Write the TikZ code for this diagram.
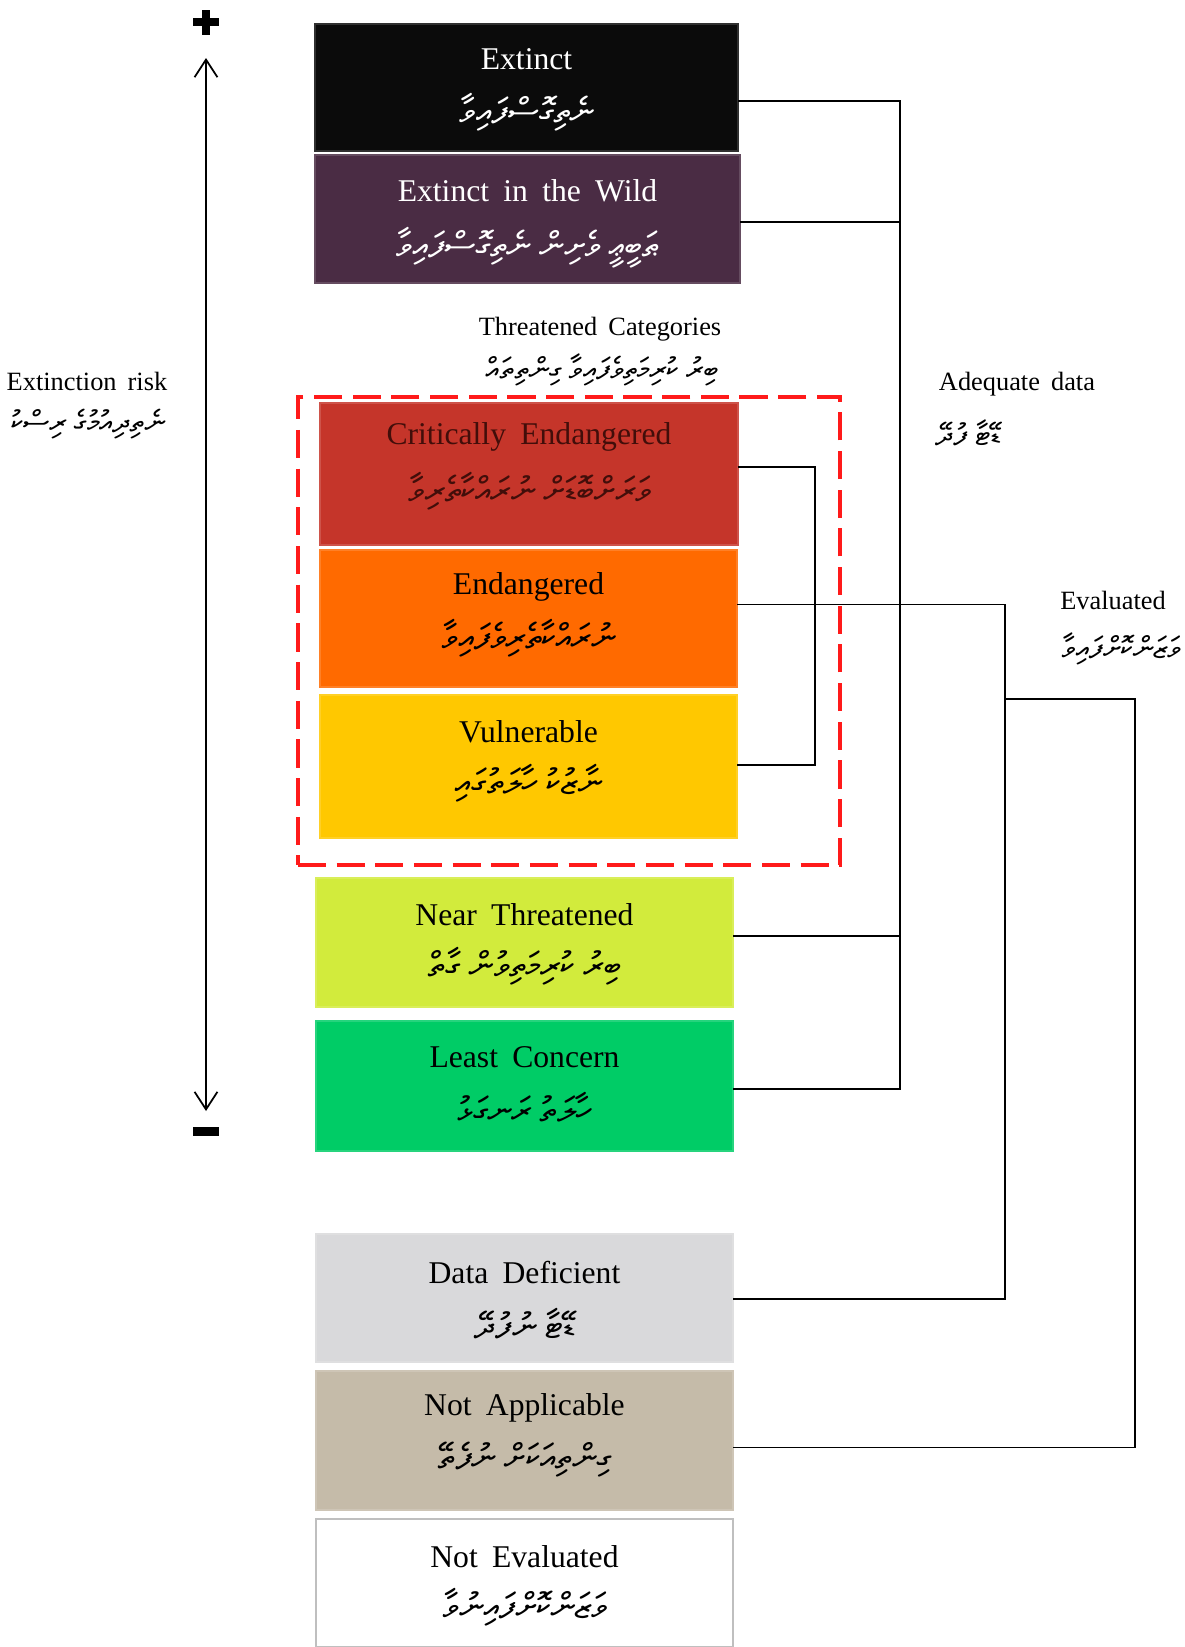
\documentclass[tikz,border=0pt]{standalone}
\usepackage{fontspec}
\setmainfont{Liberation Serif}
\IfFontExistsTF{FreeSerif}
  {\newfontfamily\thaana[Script=Thaana]{FreeSerif}}
  {\newfontfamily\thaana{DejaVu Sans}}
\TeXXeTstate=1
\newcommand{\dhiv}[1]{\beginR #1\endR}
\usepackage{tikz}
\usetikzlibrary{arrows.meta, positioning, calc}
\definecolor{ExBlack}{HTML}{0B0B0B}
\definecolor{EwPurple}{HTML}{4A2C44}
\definecolor{CrRed}{HTML}{C5352A}
\definecolor{CrText}{HTML}{420E0A}
\definecolor{EnOrange}{HTML}{FF6A00}
\definecolor{VuGold}{HTML}{FFC800}
\definecolor{NtLime}{HTML}{D2EB3C}
\definecolor{LcGreen}{HTML}{00CC66}
\definecolor{DdGrey}{HTML}{D9D9DB}
\definecolor{NaTaupe}{HTML}{C5BBA9}
\definecolor{ThreatRed}{HTML}{FF1A1A}
\tikzset{
  % Box styles
  catbox/.style={rectangle, inner sep=0pt, outer sep=0pt, minimum width=4.17cm, fill=#1, draw=#1!85!white, line width=0.6pt},
  threatbox/.style={rectangle, inner sep=0pt, draw=ThreatRed, dash pattern=on 8pt off 3pt, line width=1.2pt},
  % Text styles
  cattitle/.style={inner sep=1pt, font={\fontsize{9}{11}\selectfont\spaceskip=0.45em plus 0.1em}, text=black},
  catdv/.style={inner sep=1pt, font={\thaana\fontsize{10}{12}\selectfont}, text=black},
  sidelabel/.style={inner sep=1pt, font={\fontsize{7.5}{9}\selectfont\spaceskip=0.42em plus 0.1em}},
  sidedv/.style={inner sep=1pt, font={\thaana\fontsize{8.5}{10}\selectfont}},
  % Line styles
  link/.style={draw=black, line width=0.5pt},
  riskarrow/.style={{Straight Barb[length=5pt,width=6.5pt]}-{Straight Barb[length=5pt,width=6.5pt]}, line width=0.5pt},
  signbar/.style={rectangle, fill=black, inner sep=0pt}
}

\begin{document}
\begin{tikzpicture}[x=0.01cm, y=-0.01cm]
  \useasboundingbox (0,0) rectangle (1185,1647);

  % Category boxes
  \node[catbox=ExBlack, minimum width=4.23cm, minimum height=1.27cm] (ex) at (526.5,87.5) {};
  \node[catbox=EwPurple, minimum width=4.25cm, minimum height=1.28cm] (ew) at (527.5,219) {};
  \node[catbox=CrRed, minimum height=1.42cm] (cr) at (529,474) {};
  \node[catbox=EnOrange, minimum height=1.37cm] (en) at (528.5,618.5) {};
  \node[catbox=VuGold, minimum height=1.43cm] (vu) at (528.5,766.5) {};
  \node[catbox=NtLime, minimum height=1.29cm] (nt) at (524.5,942.5) {};
  \node[catbox=LcGreen, minimum height=1.30cm] (lc) at (524.5,1086) {};
  \node[catbox=DdGrey, minimum height=1.28cm] (dd) at (524.5,1298) {};
  \node[catbox=NaTaupe, minimum height=1.39cm] (na) at (524.5,1440.5) {};
  \node[catbox=white, draw=black!25, minimum height=1.28cm] (ne) at (524.5,1583) {};

  % Threatened group
  \node[threatbox, minimum width=5.42cm, minimum height=4.68cm] (thr) at (569,631) {};
  \node[sidelabel] (thrT) at (600,329) {Threatened Categories};
  \node[sidedv] (thrD) at (602,370) {\dhiv{ބިރު ކުރިމަތިވެފައިވާ ގިންތިތައް}};

  % Box labels
  \node[cattitle, text=white] (exT) at ($(ex.north)+(0,35)$) {Extinct};
  \node[catdv, text=white] (exD) at ($(ex.north)+(0,88)$) {\dhiv{ނެތިގޮސްފައިވާ}};
  \node[cattitle, text=white] (ewT) at ($(ew.north)+(0,36)$) {Extinct in the Wild};
  \node[catdv, text=white] (ewD) at ($(ew.north)+(0,93)$) {\dhiv{ޠަބީޢީ ވެށިން ނެތިގޮސްފައިވާ}};
  \node[cattitle, text=CrText] (crT) at ($(cr.north)+(0,34)$) {Critically Endangered};
  \node[catdv, text=CrText] (crD) at ($(cr.north)+(0,88)$) {\dhiv{ވަރަށްބޮޑަށް ނުރައްކާތެރިވާ}};
  \node[cattitle] (enT) at ($(en.north)+(0,37)$) {Endangered};
  \node[catdv] (enD) at ($(en.north)+(0,88)$) {\dhiv{ނުރައްކާތެރިވެފައިވާ}};
  \node[cattitle] (vuT) at ($(vu.north)+(0,37)$) {Vulnerable};
  \node[catdv] (vuD) at ($(vu.north)+(0,88)$) {\dhiv{ނާޒުކު ހާލަތުގައި}};
  \node[cattitle] (ntT) at ($(nt.north)+(0,37)$) {Near Threatened};
  \node[catdv] (ntD) at ($(nt.north)+(0,88)$) {\dhiv{ބިރު ކުރިމަތިވުން ގާތް}};
  \node[cattitle] (lcT) at ($(lc.north)+(0,36)$) {Least Concern};
  \node[catdv] (lcD) at ($(lc.north)+(0,86)$) {\dhiv{ހާލަތު ރަނގަޅު}};
  \node[cattitle] (ddT) at ($(dd.north)+(0,39)$) {Data Deficient};
  \node[catdv] (ddD) at ($(dd.north)+(0,90)$) {\dhiv{ޑޭޓާ ނުފުދޭ}};
  \node[cattitle] (naT) at ($(na.north)+(0,37)$) {Not Applicable};
  \node[catdv] (naD) at ($(na.north)+(0,89)$) {\dhiv{ގިންތިއަކަށް ނުފެތޭ}};
  \node[cattitle] (neT) at ($(ne.north)+(0,38)$) {Not Evaluated};
  \node[catdv] (neD) at ($(ne.north)+(0,88)$) {\dhiv{ވަޒަންކޮށްފައިނުވާ}};

  % Side labels
  \node[sidelabel] (riskT) at (87,381) {Extinction risk};
  \node[sidedv] (riskD) at (88,424) {\dhiv{ނެތިދިއުމުގެ ރިސްކު}};
  \node[sidelabel] (adqT) at (1017,384) {Adequate data};
  \node[sidedv] (adqD) at (968,433) {\dhiv{ޑޭޓާ ފުދޭ}};
  \node[sidelabel] (evlT) at (1113,600) {Evaluated};
  \node[sidedv] (evlD) at (1121,649) {\dhiv{ވަޒަންކޮށްފައިވާ}};

  % Extinction risk axis
  \coordinate (riskTop) at (206,58);
  \coordinate (riskBot) at (206,1111);
  \draw[riskarrow] (riskBot) -- (riskTop);
  \node[signbar, minimum width=0.26cm, minimum height=0.08cm] (plusH) at (206,22) {};
  \node[signbar, minimum width=0.08cm, minimum height=0.25cm] (plusV) at (206,22) {};
  \node[signbar, minimum width=0.26cm, minimum height=0.09cm] (minus) at (206,1131) {};

  % Adequate data bracket
  \coordinate (adqX) at (900,0);
  \coordinate (exS) at ($(ex.east)+(0,13.5)$);
  \coordinate (ewS) at ($(ew.east)+(0,3)$);
  \coordinate (ntS) at ($(nt.east)+(0,-6.5)$);
  \coordinate (lcS) at ($(lc.east)+(0,3)$);
  \draw[link] (exS) -- (exS -| adqX) -- (lcS -| adqX) -- (lcS);
  \draw[link] (ewS) -- (ewS -| adqX);
  \draw[link] (ntS) -- (ntS -| adqX);

  % Threatened bracket
  \coordinate (thrX) at (815,0);
  \coordinate (crS) at ($(cr.east)+(0,-7)$);
  \coordinate (vuS) at ($(vu.east)+(0,-1.5)$);
  \draw[link] (crS) -- (crS -| thrX) -- (vuS -| thrX) -- (vuS);

  % Evaluated bracket
  \coordinate (evlX) at (1005,0);
  \coordinate (enS) at ($(en.east)+(0,-14)$);
  \coordinate (ddS) at ($(dd.east)+(0,1)$);
  \draw[link] (enS) -- (enS -| evlX) -- (ddS -| evlX) -- (ddS);
  \coordinate (evlJ) at (1005,699);
  \coordinate (allX) at (1135,0);
  \coordinate (naS) at ($(na.east)+(0,7)$);
  \draw[link] (evlJ) -- (evlJ -| allX) -- (naS -| allX) -- (naS);
\end{tikzpicture}
\end{document}
